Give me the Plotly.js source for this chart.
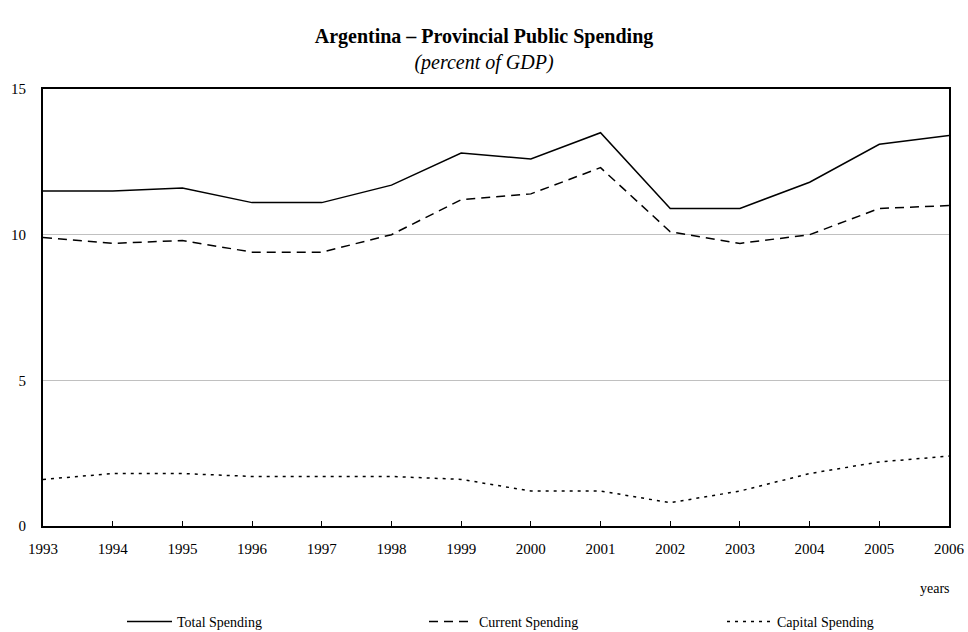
<!DOCTYPE html>
<html>
<head>
<meta charset="utf-8">
<script src="https://cdn.plot.ly/plotly-3.0.1.min.js"></script>
<style>html,body{margin:0;padding:0;background:#fff;}#chart{width:968px;height:632px;}</style>
</head>
<body>
<div id="chart"></div>
<script>
const years = [1993,1994,1995,1996,1997,1998,1999,2000,2001,2002,2003,2004,2005,2006];
const totalSpending   = [11.5,11.5,11.6,11.1,11.1,11.7,12.8,12.6,13.5,10.9,10.9,11.8,13.1,13.4];
const currentSpending = [9.9,9.7,9.8,9.4,9.4,10.0,11.2,11.4,12.3,10.1,9.7,10.0,10.9,11.0];
const capitalSpending = [1.6,1.8,1.8,1.7,1.7,1.7,1.6,1.2,1.2,0.8,1.2,1.8,2.2,2.4];
const yTicks = [0,5,10,15];

const font = 'Liberation Serif, Times New Roman, serif';
const traces = [
  {x: years, y: totalSpending, name: 'Total Spending', type: 'scatter', mode: 'lines',
   legend: 'legend', line: {color: '#000', width: 1.5, dash: 'solid'}},
  {x: years, y: currentSpending, name: 'Current Spending', type: 'scatter', mode: 'lines',
   legend: 'legend2', line: {color: '#000', width: 1.5, dash: '9px,6px'}},
  {x: years, y: capitalSpending, name: 'Capital Spending', type: 'scatter', mode: 'lines',
   legend: 'legend3', line: {color: '#000', width: 1.5, dash: '3px,5px'}}
];
function leg(xPx) {
  return {orientation: 'h', xref: 'container', yref: 'container',
          x: xPx / 968, xanchor: 'left', y: 1 - 622 / 632, yanchor: 'middle',
          itemwidth: 45, font: {family: font, size: 14, color: '#000'},
          bgcolor: 'rgba(0,0,0,0)', borderwidth: 0};
}
const layout = {
  width: 968, height: 632,
  paper_bgcolor: '#fff', plot_bgcolor: '#fff',
  font: {family: font, color: '#000', size: 15},
  margin: {l: 43, r: 19, t: 89, b: 106},
  title: {text: '<b>Argentina – Provincial Public Spending</b><br><i>(percent of GDP)</i>',
          x: 0.5, xanchor: 'center', y: 0.932, yanchor: 'top',
          font: {family: font, size: 20, color: '#000'}},
  xaxis: {range: [1993, 2006], tickvals: years, ticktext: years.map(String),
          ticks: 'inside', ticklen: 5, tickcolor: '#000', tickwidth: 1,
          ticklabelstandoff: 8,
          showline: true, linecolor: '#000', linewidth: 2, mirror: true,
          showgrid: false, zeroline: false, tickfont: {size: 15}},
  yaxis: {range: [0, 15], tickvals: yTicks, ticks: '', ticklabelstandoff: 12,
          showline: true, linecolor: '#000', linewidth: 2, mirror: true,
          showgrid: true, gridcolor: '#c0c0c0', gridwidth: 1, zeroline: false,
          tickfont: {size: 15}},
  showlegend: true,
  legend: leg(122),
  legend2: leg(424),
  legend3: leg(722),
  annotations: [{text: 'years', xref: 'paper', yref: 'paper', x: 0.985, y: -0.142,
                 xanchor: 'center', yanchor: 'middle', showarrow: false,
                 font: {family: font, size: 14, color: '#000'}}]
};
Plotly.newPlot('chart', traces, layout, {displayModeBar: false});
</script>
</body>
</html>
